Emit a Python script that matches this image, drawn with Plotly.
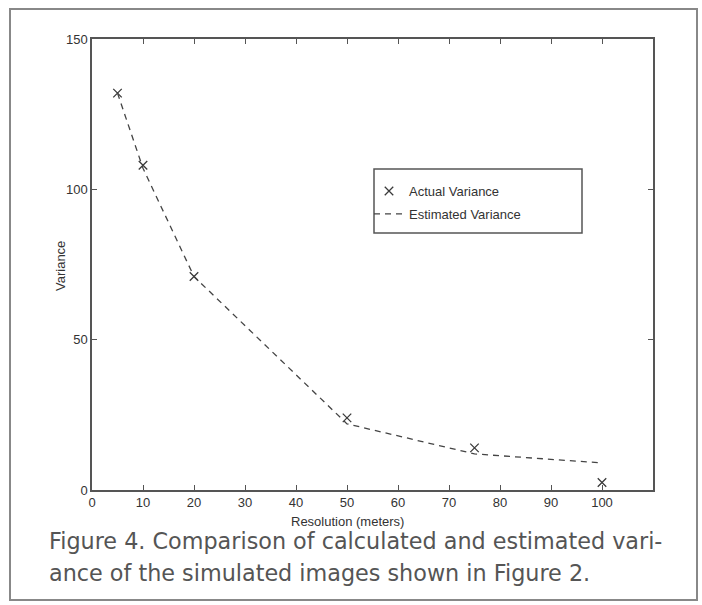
import plotly.graph_objects as go

# Variance against image resolution
resolution = [5, 10, 20, 50, 75, 100]
actual_variance = [132, 108, 71, 24, 14, 2.5]
estimated_variance = [132, 107, 71, 22, 12, 9]

x_ticks = [0, 10, 20, 30, 40, 50, 60, 70, 80, 90, 100]
y_ticks = [0, 50, 100, 150]

caption_lines = [
    "Figure 4. Comparison of calculated and estimated vari-",
    "ance of the simulated images shown in Figure 2.",
]

W, H = 702, 605
L, R, T, B = 92, 653, 39, 490  # plot area in pixels
pw, ph = R - L, B - T


def px(xp):
    return (xp - L) / pw


def py(yp):
    return (B - yp) / ph


axis_font = dict(family="Liberation Sans Narrow, Liberation Sans, Arial", size=13, color="#333")
ink = "#3a3a3a"

fig = go.Figure()

fig.add_trace(go.Scatter(
    x=resolution, y=actual_variance, mode="markers", name="Actual Variance",
    legendgroup="a",
    marker=dict(symbol="x-thin-open", size=8.5, line=dict(width=1.3, color=ink), color=ink),
))
fig.add_trace(go.Scatter(
    x=resolution, y=estimated_variance, mode="lines", name="Estimated Variance",
    legendgroup="b",
    line=dict(color="#444", width=1.3, dash="6px,5px"),
))

axis_common = dict(
    showgrid=False, zeroline=False, showline=True, linecolor="#555", linewidth=1.5,
    mirror="allticks", ticks="inside", ticklen=5, tickwidth=1, tickcolor="#555",
    tickfont=axis_font,
)

fig.update_xaxes(range=[0, 110], tickvals=x_ticks, ticktext=[str(v) for v in x_ticks], **axis_common)
fig.update_yaxes(range=[0, 150], tickvals=y_ticks, ticktext=[str(v) for v in y_ticks],
                 ticklabelstandoff=0, **axis_common)

fig.add_annotation(text="Resolution (meters)", xref="x", x=50, yref="paper", y=py(521),
                   showarrow=False, font=axis_font, xanchor="center", yanchor="middle")
fig.add_annotation(text="Variance", xref="paper", x=px(60), yref="paper", y=py(266),
                   showarrow=False, font=axis_font, textangle=-90,
                   xanchor="center", yanchor="middle")

for i, line in enumerate(caption_lines):
    fig.add_annotation(text=line, xref="paper", x=px(47), yref="paper", y=py(541 + 32 * i),
                       showarrow=False, xanchor="left", yanchor="middle",
                       font=dict(family="DejaVu Sans, Verdana", size=22.3, color="#555"))

# frame around the whole figure
fig.add_shape(type="rect", xref="paper", yref="paper",
              x0=px(10), x1=px(697), y0=py(600), y1=py(9),
              line=dict(color="#888", width=2), layer="below")

# legend frame
fig.add_shape(type="rect", xref="paper", yref="paper",
              x0=px(374), x1=px(582), y0=py(233), y1=py(169),
              line=dict(color="#555", width=1.5), layer="above")

fig.update_layout(
    width=W, height=H,
    margin=dict(l=L, r=W - R, t=T, b=H - B),
    plot_bgcolor="white", paper_bgcolor="white",
    showlegend=True,
    legend=dict(x=px(369), y=py(176), xanchor="left", yanchor="top",
                borderwidth=0, bgcolor="rgba(0,0,0,0)",
                font=dict(family="Liberation Sans Narrow, Liberation Sans, Arial", size=13, color="#333"),
                itemwidth=30, tracegroupgap=3),
)

fig.write_html("out.html")
